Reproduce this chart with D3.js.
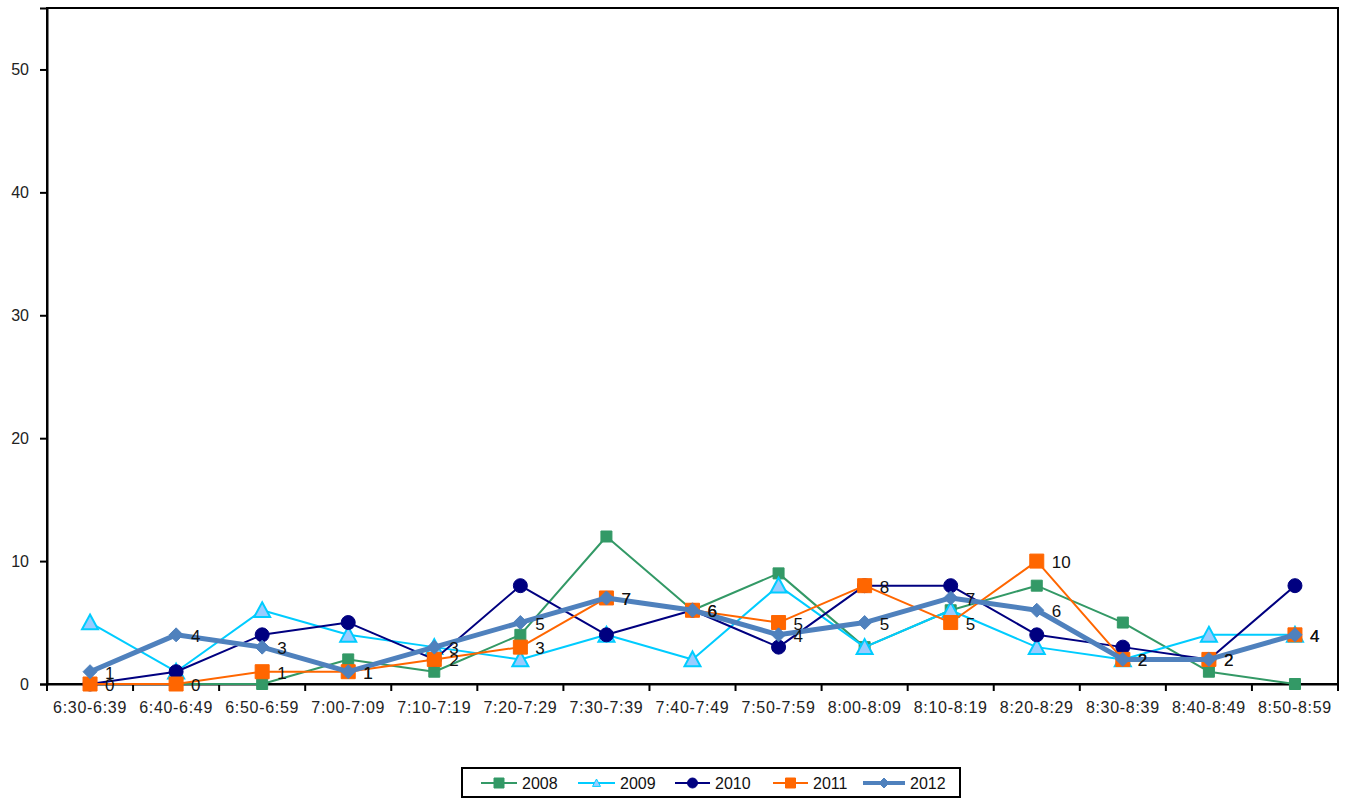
<!DOCTYPE html>
<html>
<head>
<meta charset="utf-8">
<script src="https://cdn.jsdelivr.net/npm/d3@7/dist/d3.min.js"></script>
<style>
  html, body { margin: 0; padding: 0; background: #fff; }
  svg { display: block; font-family: "Liberation Sans", Arial, sans-serif; }
</style>
</head>
<body>
<svg id="chart" width="1350" height="798"></svg>
<script>
// Time slots (10-minute intervals)
const categories = ["6:30-6:39","6:40-6:49","6:50-6:59","7:00-7:09","7:10-7:19","7:20-7:29",
  "7:30-7:39","7:40-7:49","7:50-7:59","8:00-8:09","8:10-8:19","8:20-8:29","8:30-8:39","8:40-8:49","8:50-8:59"];

// Counts per year
const values2008 = [0, 0, 0, 2, 1, 4, 12, 6, 9, 3, 6, 8, 5, 1, 0];
const values2009 = [5, 1, 6, 4, 3, 2, 4, 2, 8, 3, 6, 3, 2, 4, 4];
const values2010 = [0, 1, 4, 5, 2, 8, 4, 6, 3, 8, 8, 4, 3, 2, 8];
const values2011 = [0, 0, 1, 1, 2, 3, 7, 6, 5, 8, 5, 10, 2, 2, 4];
const values2012 = [1, 4, 3, 1, 3, 5, 7, 6, 4, 5, 7, 6, 2, 2, 4];

const yTicks = [0, 10, 20, 30, 40, 50];

const series = [
  { name: "2008", values: values2008, color: "#339966", width: 2,   marker: "square",   size: 11, fill: "#339966", stroke: "#339966", labels: false },
  { name: "2009", values: values2009, color: "#00CCFF", width: 2,   marker: "triangle", size: 16, fill: "#99CCFF", stroke: "#00CCFF", labels: false },
  { name: "2010", values: values2010, color: "#000080", width: 2,   marker: "circle",   size: 14, fill: "#000080", stroke: "#000080", labels: false },
  { name: "2011", values: values2011, color: "#FF6600", width: 2,   marker: "square",   size: 14, fill: "#FF6600", stroke: "#FF6600", labels: true },
  { name: "2012", values: values2012, color: "#4F81BD", width: 5,   marker: "diamond",  size: 14, fill: "#4F81BD", stroke: "#4F81BD", labels: true }
];

const svg = d3.select("#chart");
const plot = { left: 47, top: 8, right: 1338, bottom: 684 };

const x = d3.scaleBand().domain(categories).range([plot.left, plot.right]).paddingInner(0).paddingOuter(0);
const cx = c => x(c) + x.bandwidth() / 2;
const y = d3.scaleLinear().domain([0, 55]).range([plot.bottom, plot.top]);

// Plot frame
svg.append("rect")
  .attr("x", plot.left).attr("y", plot.top)
  .attr("width", plot.right - plot.left).attr("height", plot.bottom - plot.top)
  .attr("fill", "none").attr("stroke", "#000").attr("stroke-width", 2);

// Y axis
const yAxis = svg.append("g")
  .attr("transform", `translate(${plot.left},0)`)
  .call(d3.axisLeft(y).tickValues(yTicks).tickSize(7).tickPadding(11));
yAxis.select(".domain").attr("stroke", "#000").attr("stroke-width", 2);
yAxis.selectAll(".tick line").attr("stroke", "#000").attr("stroke-width", 2);
yAxis.selectAll(".tick text").attr("font-size", 16).attr("fill", "#222")
  .attr("font-family", "Liberation Sans, Arial, sans-serif");

// X axis: labels centred in slots, tick marks on slot boundaries
const xAxis = svg.append("g")
  .attr("transform", `translate(0,${plot.bottom})`)
  .call(d3.axisBottom(x).tickSize(0).tickPadding(18));
xAxis.select(".domain").attr("stroke", "#000").attr("stroke-width", 2);
xAxis.selectAll(".tick text").attr("font-size", 16).attr("fill", "#222")
  .attr("letter-spacing", 0.7)
  .attr("font-family", "Liberation Sans, Arial, sans-serif");
const bounds = categories.map(c => x(c)).concat([plot.right]);
xAxis.selectAll("line.bound").data(bounds).join("line")
  .attr("class", "bound")
  .attr("x1", d => d).attr("x2", d => d)
  .attr("y1", 0).attr("y2", 7)
  .attr("stroke", "#000").attr("stroke-width", 2);

// Marker path generator
function markerPath(type, s) {
  const h = s / 2;
  switch (type) {
    case "square": return `M${-h},${-h}H${h}V${h}H${-h}Z`;
    case "triangle": return `M0,${-h}L${h},${h * 0.85}L${-h},${h * 0.85}Z`;
    case "diamond": return `M0,${-h}L${h},0L0,${h}L${-h},0Z`;
    default: return d3.symbol(d3.symbolCircle, Math.PI * h * h)();
  }
}

const line = d3.line().x(d => cx(d.c)).y(d => y(d.v));

series.forEach(s => {
  const pts = categories.map((c, i) => ({ c, v: s.values[i] }));
  const g = svg.append("g").attr("class", "series-" + s.name);
  g.append("path").datum(pts)
    .attr("d", line).attr("fill", "none")
    .attr("stroke", s.color).attr("stroke-width", s.width)
    .attr("stroke-linejoin", "round");
  g.selectAll("path.mk").data(pts).join("path")
    .attr("class", "mk")
    .attr("transform", d => `translate(${cx(d.c)},${y(d.v)})`)
    .attr("d", markerPath(s.marker, s.size))
    .attr("fill", s.fill).attr("stroke", s.stroke).attr("stroke-width", s.marker === "triangle" ? 2 : 1);
});

// Value labels for 2011 and 2012
series.filter(s => s.labels).forEach(s => {
  svg.append("g").selectAll("text").data(categories.map((c, i) => ({ c, v: s.values[i] }))).join("text")
    .attr("x", d => cx(d.c) + 15)
    .attr("y", d => y(d.v) + 7)
    .attr("font-size", 17).attr("fill", "#111")
    .text(d => d.v);
});

// Legend
const legend = svg.append("g");
legend.append("rect")
  .attr("x", 462).attr("y", 768).attr("width", 498).attr("height", 29)
  .attr("fill", "#fff").attr("stroke", "#000").attr("stroke-width", 2);
const legendX = [481, 578, 675, 773, 863];
const legendLen = [36, 37, 35, 35, 42];
series.forEach((s, i) => {
  const lg = legend.append("g").attr("transform", `translate(${legendX[i]},783)`);
  lg.append("line").attr("x1", 0).attr("x2", legendLen[i]).attr("y1", 0).attr("y2", 0)
    .attr("stroke", s.color).attr("stroke-width", s.width === 5 ? 4 : 2);
  lg.append("path").attr("transform", `translate(${legendLen[i] / 2},0)`)
    .attr("d", markerPath(s.marker, s.marker === "triangle" ? 8 : 10))
    .attr("fill", s.fill).attr("stroke", s.stroke).attr("stroke-width", 1);
  lg.append("text").attr("x", legendLen[i] + 5).attr("y", 6)
    .attr("font-size", 16).attr("fill", "#111").text(s.name);
});
</script>
</body>
</html>
